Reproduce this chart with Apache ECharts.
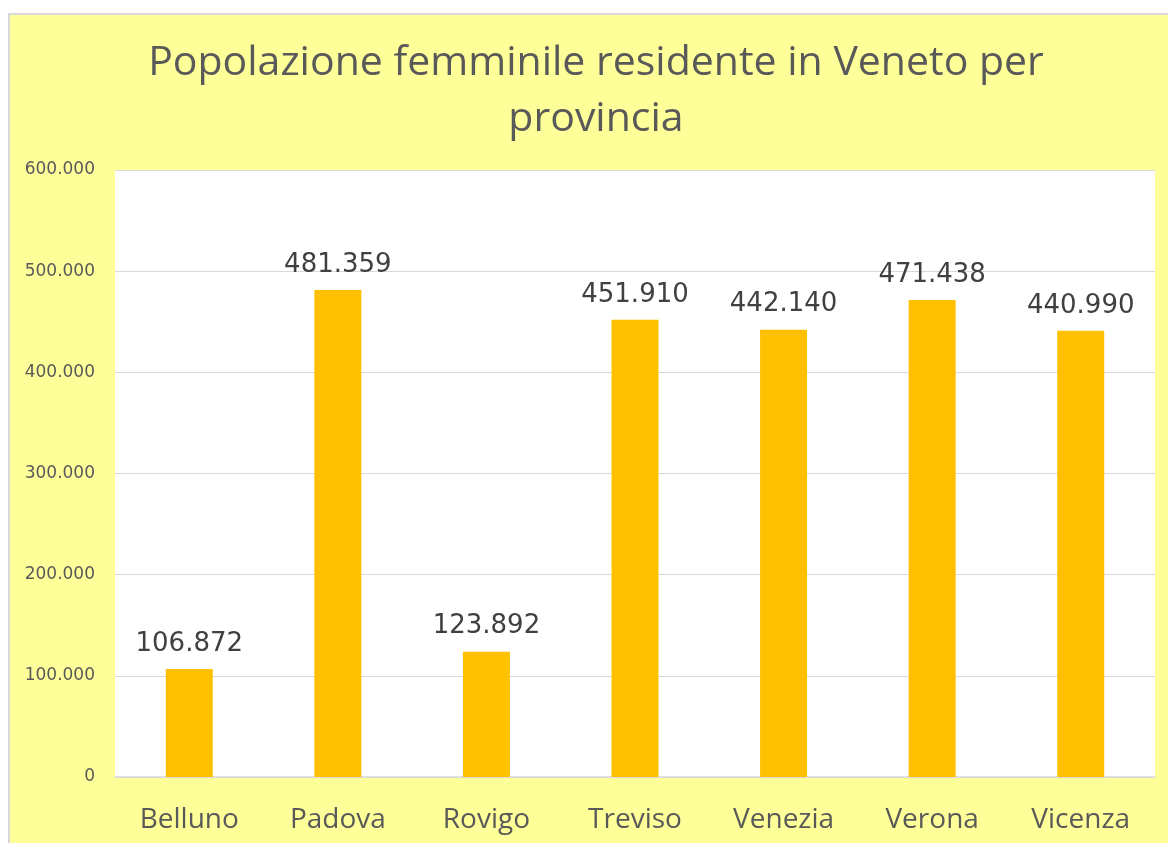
<!DOCTYPE html>
<html>
<head>
<meta charset="utf-8">
<script src="https://cdn.jsdelivr.net/npm/echarts@6/dist/echarts.min.js"></script>
<style>
  html, body { margin: 0; padding: 0; background: #ffffff; overflow: hidden; }
  #bg { position: absolute; left: 8px; top: 13px; width: 1180px; height: 850px;
        background: #FFFF99; border: 2px solid #D9D9D9; box-sizing: border-box; }
  #chart { position: absolute; left: 0; top: 0; width: 1168px; height: 843px; }
</style>
</head>
<body>
<div id="bg"></div>
<div id="chart"></div>
<script>
const titleText = 'Popolazione femminile residente in Veneto per\nprovincia';
const categories = ['Belluno', 'Padova', 'Rovigo', 'Treviso', 'Venezia', 'Verona', 'Vicenza'];
const values = [106872, 481359, 123892, 451910, 442140, 471438, 440990];
const yTicks = { min: 0, max: 600000, interval: 100000 };

function fmt(v) {
  if (v === 0) return '0';
  return String(Math.round(v)).replace(/\B(?=(\d{3})+(?!\d))/g, '.');
}

const chart = echarts.init(document.getElementById('chart'), null, { renderer: 'canvas' });
chart.setOption({
  backgroundColor: 'transparent',
  animation: false,
  title: {
    text: titleText,
    left: 591,
    top: 30,
    textAlign: 'center',
    textStyle: {
      fontFamily: 'Open Sans',
      fontSize: 41,
      fontWeight: 'normal',
      color: '#595959',
      lineHeight: 56
    }
  },
  grid: {
    left: 115, right: 13, top: 170, bottom: 66,
    show: true, backgroundColor: '#FFFFFF', borderWidth: 0
  },
  xAxis: {
    type: 'category',
    data: categories,
    axisLine: { show: true, lineStyle: { color: '#D9D9D9', width: 1.5 } },
    axisTick: { show: false },
    axisLabel: {
      fontFamily: 'Open Sans',
      fontSize: 28,
      color: '#595959',
      margin: 29
    }
  },
  yAxis: {
    type: 'value',
    min: yTicks.min, max: yTicks.max, interval: yTicks.interval,
    axisLine: { show: false },
    axisTick: { show: false },
    splitLine: { lineStyle: { color: '#D9D9D9', width: 1 } },
    axisLabel: {
      fontFamily: 'DejaVu Sans',
      fontSize: 17,
      color: '#595959',
      margin: 20,
      formatter: fmt
    }
  },
  series: [{
    type: 'bar',
    data: values,
    barWidth: 47,
    itemStyle: { color: '#FFC000' },
    label: {
      show: true,
      position: 'top',
      distance: 12,
      fontFamily: 'DejaVu Sans',
      fontSize: 26,
      color: '#404040',
      formatter: p => fmt(p.value)
    }
  }]
});
</script>
</body>
</html>
